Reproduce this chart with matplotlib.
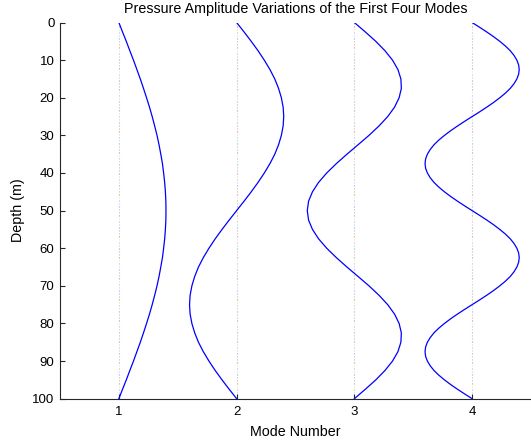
import numpy as np
import matplotlib
matplotlib.use("Agg")
import matplotlib.pyplot as plt

plt.rcParams['font.family'] = ['Liberation Sans', 'DejaVu Sans']

# depth samples (m), every 2.5 m
depth = [0, 2.5, 5, 7.5, 10, 12.5, 15, 17.5, 20, 22.5, 25, 27.5, 30, 32.5, 35, 37.5, 40,
         42.5, 45, 47.5, 50, 52.5, 55, 57.5, 60, 62.5, 65, 67.5, 70, 72.5, 75, 77.5, 80,
         82.5, 85, 87.5, 90, 92.5, 95, 97.5, 100]
# finer depth samples for mode 4 (every 1.25 m)
depth4 = [0, 1.25, 2.5, 3.75, 5, 6.25, 7.5, 8.75, 10, 11.25, 12.5, 13.75, 15, 16.25, 17.5,
          18.75, 20, 21.25, 22.5, 23.75, 25, 26.25, 27.5, 28.75, 30, 31.25, 32.5, 33.75,
          35, 36.25, 37.5, 38.75, 40, 41.25, 42.5, 43.75, 45, 46.25, 47.5, 48.75, 50,
          51.25, 52.5, 53.75, 55, 56.25, 57.5, 58.75, 60, 61.25, 62.5, 63.75, 65, 66.25,
          67.5, 68.75, 70, 71.25, 72.5, 73.75, 75, 76.25, 77.5, 78.75, 80, 81.25, 82.5,
          83.75, 85, 86.25, 87.5, 88.75, 90, 91.25, 92.5, 93.75, 95, 96.25, 97.5, 98.75, 100]

# pressure amplitude (offset from mode number)
mode1 = [0, 0.031, 0.063, 0.093, 0.124, 0.153, 0.182, 0.209, 0.235, 0.260, 0.283, 0.304,
         0.324, 0.341, 0.356, 0.370, 0.380, 0.389, 0.395, 0.399, 0.400, 0.399, 0.395, 0.389,
         0.380, 0.370, 0.356, 0.341, 0.324, 0.304, 0.283, 0.260, 0.235, 0.209, 0.182, 0.153,
         0.124, 0.093, 0.063, 0.031, 0]
mode2 = [0, 0.063, 0.124, 0.182, 0.235, 0.283, 0.324, 0.356, 0.380, 0.395, 0.400, 0.395,
         0.380, 0.356, 0.324, 0.283, 0.235, 0.182, 0.124, 0.063, 0, -0.063, -0.124, -0.182,
         -0.235, -0.283, -0.324, -0.356, -0.380, -0.395, -0.400, -0.395, -0.380, -0.356,
         -0.324, -0.283, -0.235, -0.182, -0.124, -0.063, 0]
mode3 = [0, 0.093, 0.182, 0.260, 0.324, 0.370, 0.395, 0.399, 0.380, 0.341, 0.283, 0.209,
         0.124, 0.031, -0.063, -0.153, -0.235, -0.304, -0.356, -0.389, -0.400, -0.389,
         -0.356, -0.304, -0.235, -0.153, -0.063, 0.031, 0.124, 0.209, 0.283, 0.341, 0.380,
         0.399, 0.395, 0.370, 0.324, 0.260, 0.182, 0.093, 0]
mode4 = [0, 0.063, 0.124, 0.182, 0.235, 0.283, 0.324, 0.356, 0.380, 0.395, 0.400, 0.395,
         0.380, 0.356, 0.324, 0.283, 0.235, 0.182, 0.124, 0.063,
         0, -0.063, -0.124, -0.182, -0.235, -0.283, -0.324, -0.356, -0.380, -0.395, -0.400,
         -0.395, -0.380, -0.356, -0.324, -0.283, -0.235, -0.182, -0.124, -0.063,
         0, 0.063, 0.124, 0.182, 0.235, 0.283, 0.324, 0.356, 0.380, 0.395, 0.400, 0.395,
         0.380, 0.356, 0.324, 0.283, 0.235, 0.182, 0.124, 0.063,
         0, -0.063, -0.124, -0.182, -0.235, -0.283, -0.324, -0.356, -0.380, -0.395, -0.400,
         -0.395, -0.380, -0.356, -0.324, -0.283, -0.235, -0.182, -0.124, -0.063, 0]

modes = [1, 2, 3, 4]
shapes = [(depth, mode1), (depth, mode2), (depth, mode3), (depth4, mode4)]
dotcols = ['r', 'g', 'b', 'c', 'm', 'y', 'k']

fig = plt.figure(figsize=(5.31, 4.42), dpi=100)
ax = fig.add_axes([0.113, 0.098, 0.887, 0.851])

gap = 2.7
for n, (d, s) in zip(modes, shapes):
    # faint multicoloured dotted reference line
    for i, c in enumerate(dotcols):
        ax.plot([n, n], [0, 100], color=c, lw=0.8, alpha=0.45,
                linestyle=(i * gap, (0.8, gap * len(dotcols) - 0.8)))
    ax.plot(n + np.array(s), d, color='#0000ff', lw=0.9)

ax.set_xlim(0.5, 4.5)
ax.set_ylim(100, 0)
ax.set_xticks(modes)
ax.set_yticks(range(0, 101, 10))
ax.spines['top'].set_visible(False)
ax.spines['right'].set_visible(False)
for sp in ax.spines.values():
    sp.set_linewidth(0.8)
    sp.set_color('#262626')
ax.tick_params(direction='in', length=3.5, width=0.8, labelsize=9.5, color='#262626')
ax.tick_params(axis='x', pad=5.5)
ax.tick_params(axis='y', pad=4)
ax.set_xlabel('Mode Number', fontsize=10.3, labelpad=5)
ax.set_ylabel('Depth (m)', fontsize=10.3, labelpad=5)
ax.set_title('Pressure Amplitude Variations of the First Four Modes', fontsize=10.3,
             y=1.0, pad=7)

fig.savefig('out.png', dpi=100)
